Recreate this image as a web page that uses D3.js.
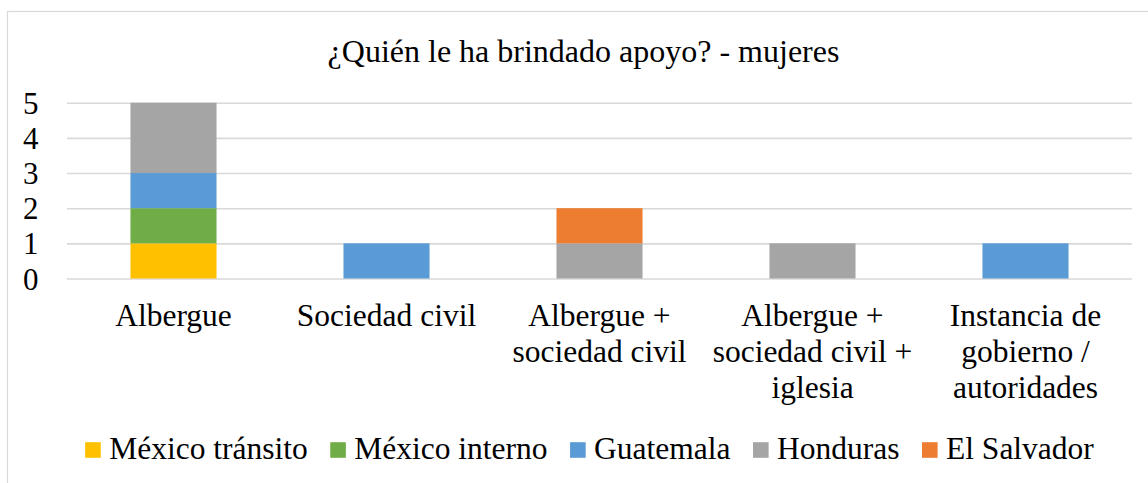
<!DOCTYPE html>
<html>
<head>
<meta charset="utf-8">
<script src="https://cdn.jsdelivr.net/npm/d3@7/dist/d3.min.js"></script>
<style>
  html, body { margin: 0; padding: 0; background: #fff; }
  svg { display: block; }
</style>
</head>
<body>
<svg id="chart" width="1148" height="483"></svg>
<script>
// Support sources reported by women, counted by origin group
const categories = [
  "Albergue",
  "Sociedad civil",
  "Albergue + sociedad civil",
  "Albergue + sociedad civil + iglesia",
  "Instancia de gobierno / autoridades"
];
const seriesNames = ["México tránsito", "México interno", "Guatemala", "Honduras", "El Salvador"];
const mexicoTransito = [1, 0, 0, 0, 0];
const mexicoInterno  = [1, 0, 0, 0, 0];
const guatemala      = [1, 1, 0, 0, 1];
const honduras       = [2, 0, 1, 1, 0];
const elSalvador     = [0, 0, 1, 0, 0];
const yTicks = [0, 1, 2, 3, 4, 5];
const colors = ["#FFC000", "#70AD47", "#5B9BD5", "#A5A5A5", "#ED7D31"];
const titleText = "¿Quién le ha brindado apoyo? - mujeres";

const FONT = "'Liberation Serif', 'Times New Roman', Tinos, serif";

const seriesValues = [mexicoTransito, mexicoInterno, guatemala, honduras, elSalvador];
const table = categories.map((c, i) => {
  const row = { category: c };
  seriesNames.forEach((s, k) => { row[s] = seriesValues[k][i]; });
  return row;
});

const svg = d3.select("#chart");
const plot = { left: 67, right: 1132, top: 102.7, bottom: 278.5 };

// chart frame
svg.append("rect")
  .attr("x", 7.5).attr("y", 11.5)
  .attr("width", 1160).attr("height", 500)
  .attr("fill", "#fff").attr("stroke", "#d9d9d9").attr("stroke-width", 1.2);

svg.append("text")
  .attr("x", 583.5).attr("y", 61.5)
  .attr("text-anchor", "middle")
  .style("font-family", FONT)
  .style("font-size", "32px")
  .attr("fill", "#000")
  .text(titleText);

const x = d3.scaleBand()
  .domain(categories)
  .range([plot.left, plot.right])
  .paddingInner(0.596)
  .paddingOuter(0.298);

const y = d3.scaleLinear()
  .domain([0, 5])
  .range([plot.bottom, plot.top]);

// gridlines + value labels
const yAxis = svg.append("g")
  .attr("transform", `translate(${plot.left},0)`)
  .call(d3.axisLeft(y).tickValues(yTicks).tickFormat(d3.format("d"))
    .tickSizeInner(-(plot.right - plot.left)).tickSizeOuter(0).tickPadding(28.5));
yAxis.select(".domain").remove();
yAxis.selectAll(".tick line").attr("stroke", "#d9d9d9").attr("stroke-width", 1.6);
yAxis.selectAll(".tick text")
  .style("font-size", "31px")
  .style("font-family", FONT)
  .attr("dy", "0.34em")
  .attr("fill", "#000");

// stacked bars
const stack = d3.stack().keys(seriesNames);
const layers = stack(table);
svg.append("g").selectAll("g")
  .data(layers)
  .join("g")
  .attr("fill", (d, i) => colors[i])
  .selectAll("rect")
  .data(d => d.filter(p => p[1] > p[0]))
  .join("rect")
  .attr("x", d => x(d.data.category))
  .attr("width", x.bandwidth())
  .attr("y", d => y(d[1]))
  .attr("height", d => y(d[0]) - y(d[1]));

// category labels, wrapped to the band width
const xAxis = svg.append("g")
  .attr("transform", `translate(0,${plot.bottom})`)
  .call(d3.axisBottom(x).tickSize(0).tickPadding(0));
xAxis.select(".domain").remove();
const maxLabelWidth = x.step() - 6;
xAxis.selectAll(".tick text").each(function (d) {
  const t = d3.select(this);
  t.text(null)
    .attr("y", 0).attr("dy", null)
    .style("font-size", "31.5px")
    .style("font-family", FONT)
    .attr("fill", "#000");
  const words = d.split(" ");
  const lines = [];
  let line = [];
  const probe = t.append("tspan");
  words.forEach(w => {
    const test = line.concat([w]).join(" ");
    probe.text(test);
    if (probe.node().getComputedTextLength() > maxLabelWidth && line.length) {
      lines.push(line.join(" "));
      line = [w];
    } else {
      line.push(w);
    }
  });
  lines.push(line.join(" "));
  probe.remove();
  lines.forEach((l, i) => {
    t.append("tspan").attr("x", 0).attr("y", 47.5 + i * 36).text(l);
  });
});

// legend
const legend = svg.append("g");
const items = legend.selectAll("g")
  .data(seriesNames)
  .join("g");
items.append("rect")
  .attr("y", 442.2).attr("width", 15.6).attr("height", 15.6)
  .attr("fill", (d, i) => colors[i]);
items.append("text")
  .attr("x", 24).attr("y", 459.3)
  .style("font-family", FONT)
  .style("font-size", "31.5px")
  .attr("fill", "#000")
  .text(d => d);
let cursor = 0;
items.each(function () {
  const g = d3.select(this);
  g.attr("transform", `translate(${cursor},0)`);
  cursor += 24 + g.select("text").node().getComputedTextLength() + 22.5;
});
const legendWidth = cursor - 22.5;
legend.attr("transform", `translate(${589.5 - legendWidth / 2},0)`);
</script>
</body>
</html>
